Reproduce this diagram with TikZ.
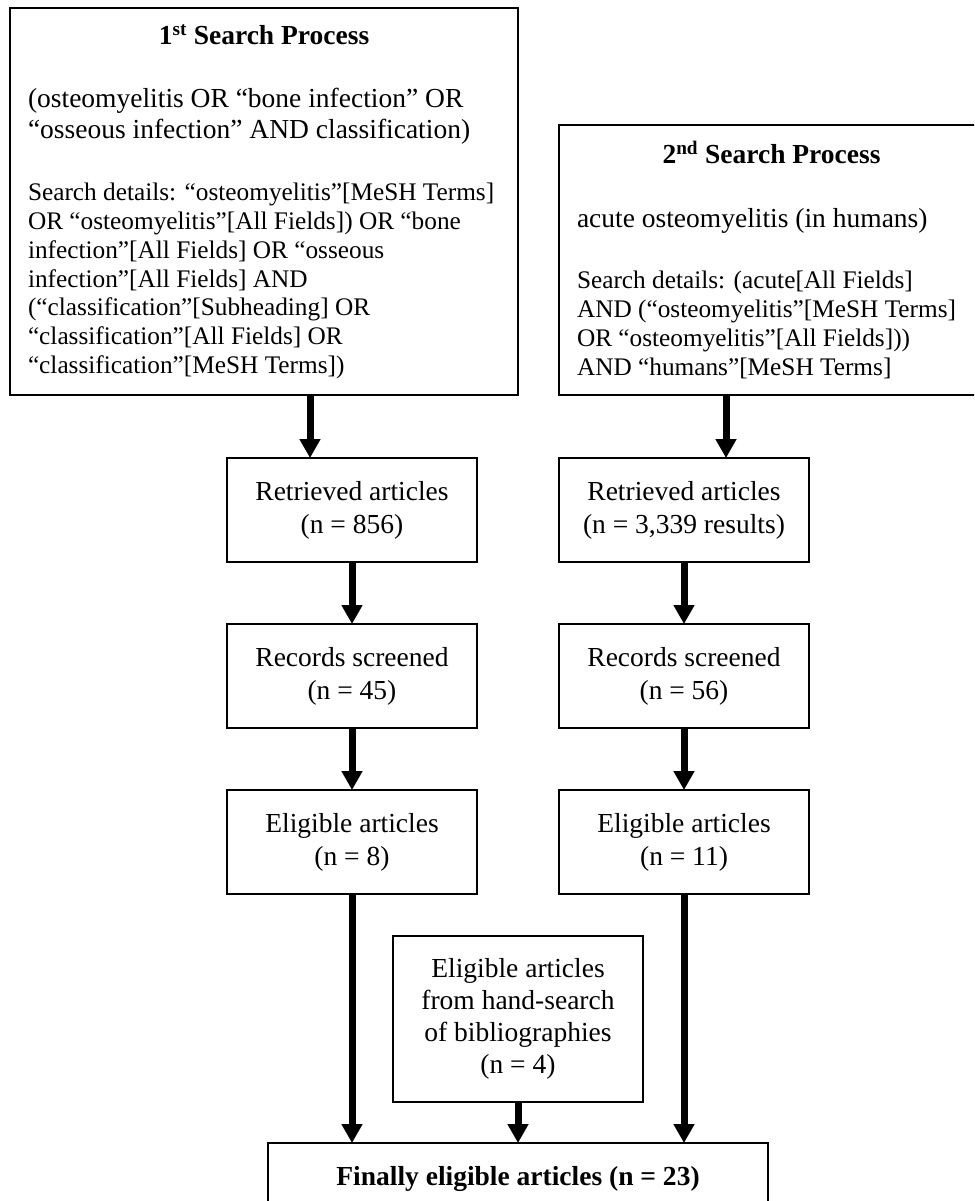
\documentclass[tikz,border=0pt]{standalone}
\usepackage{fontspec}
\setmainfont{Liberation Serif}
\usetikzlibrary{arrows.meta}
\begin{document}
\begin{tikzpicture}[x=1pt,y=-1pt,
  box/.style={draw=black, line width=1.5pt, fill=white, inner sep=0pt, outer sep=0pt,
              align=center, font=\fontsize{27.5}{33}\selectfont},
  bigbox/.style={draw=black, line width=1.5pt, fill=white, inner xsep=18pt, inner ysep=0pt, outer sep=0pt},
  arr/.style={line width=7pt, -{Triangle[length=19pt,width=20pt]}}]
\clip (0,0) rectangle (974,1201);

\node[bigbox, minimum width=508pt, minimum height=387pt] (box1) at (264,201.5) {%
\begin{minipage}{472pt}
\fontsize{27.5}{31.6}\selectfont
\centering\textbf{1\textsuperscript{st} Search Process}\par
\vspace{31.6pt}
\raggedright
(osteomyelitis OR “bone infection” OR\\
“osseous infection” AND classification)\par
\vspace{33pt}
\fontsize{25.3}{28.8}\selectfont
Search details: “osteomyelitis”[MeSH Terms]\\
OR “osteomyelitis”[All Fields]) OR “bone\\
infection”[All Fields] OR “osseous\\
infection”[All Fields] AND\\
(“classification”[Subheading] OR\\
“classification”[All Fields] OR\\
“classification”[MeSH Terms])\par
\end{minipage}};

\node[bigbox, minimum width=425pt, minimum height=270pt] (box2) at (771.5,260) {%
\begin{minipage}{389pt}
\fontsize{27.5}{31.6}\selectfont
\centering\textbf{2\textsuperscript{nd} Search Process}\par
\vspace{31.6pt}
\raggedright
acute osteomyelitis (in humans)\par
\vspace{33pt}
\fontsize{25.3}{28.8}\selectfont
Search details: (acute[All Fields]\\
AND (“osteomyelitis”[MeSH Terms]\\
OR “osteomyelitis”[All Fields]))\\
AND “humans”[MeSH Terms]\par
\end{minipage}};

\node[box, minimum width=250pt, minimum height=104pt] (ret1) at (352,510) {Retrieved articles\\(n = 856)};
\node[box, minimum width=250pt, minimum height=104pt] (ret2) at (684,510) {Retrieved articles\\(n = 3,339 results)};
\node[box, minimum width=250pt, minimum height=104pt] (rec1) at (352,676) {Records screened\\(n = 45)};
\node[box, minimum width=250pt, minimum height=104pt] (rec2) at (684,676) {Records screened\\(n = 56)};
\node[box, minimum width=250pt, minimum height=104pt] (elig1) at (352,842) {Eligible articles\\(n = 8)};
\node[box, minimum width=250pt, minimum height=104pt] (elig2) at (684,842) {Eligible articles\\(n = 11)};
\node[box, minimum width=250pt, minimum height=166pt, font=\fontsize{27.5}{32.2}\selectfont] (hand) at (518,1019)
  {Eligible articles\\from hand-search\\of bibliographies\\(n = 4)};
\node[box, minimum width=500pt, minimum height=71pt, anchor=north, font=\bfseries\fontsize{27.5}{33}\selectfont] (final) at (518,1143)
  {Finally eligible articles (n = 23)};

\coordinate (a1) at (310,0);
\coordinate (a2) at (726,0);
\draw[arr] (box1.south -| a1) -- (ret1.north -| a1);
\draw[arr] (box2.south -| a2) -- (ret2.north -| a2);
\draw[arr] (ret1.south) -- (rec1.north);
\draw[arr] (ret2.south) -- (rec2.north);
\draw[arr] (rec1.south) -- (elig1.north);
\draw[arr] (rec2.south) -- (elig2.north);
\draw[arr] (elig1.south) -- (elig1.south |- final.north);
\draw[arr] (elig2.south) -- (elig2.south |- final.north);
\draw[arr] (hand.south) -- (final.north);
\end{tikzpicture}
\end{document}
